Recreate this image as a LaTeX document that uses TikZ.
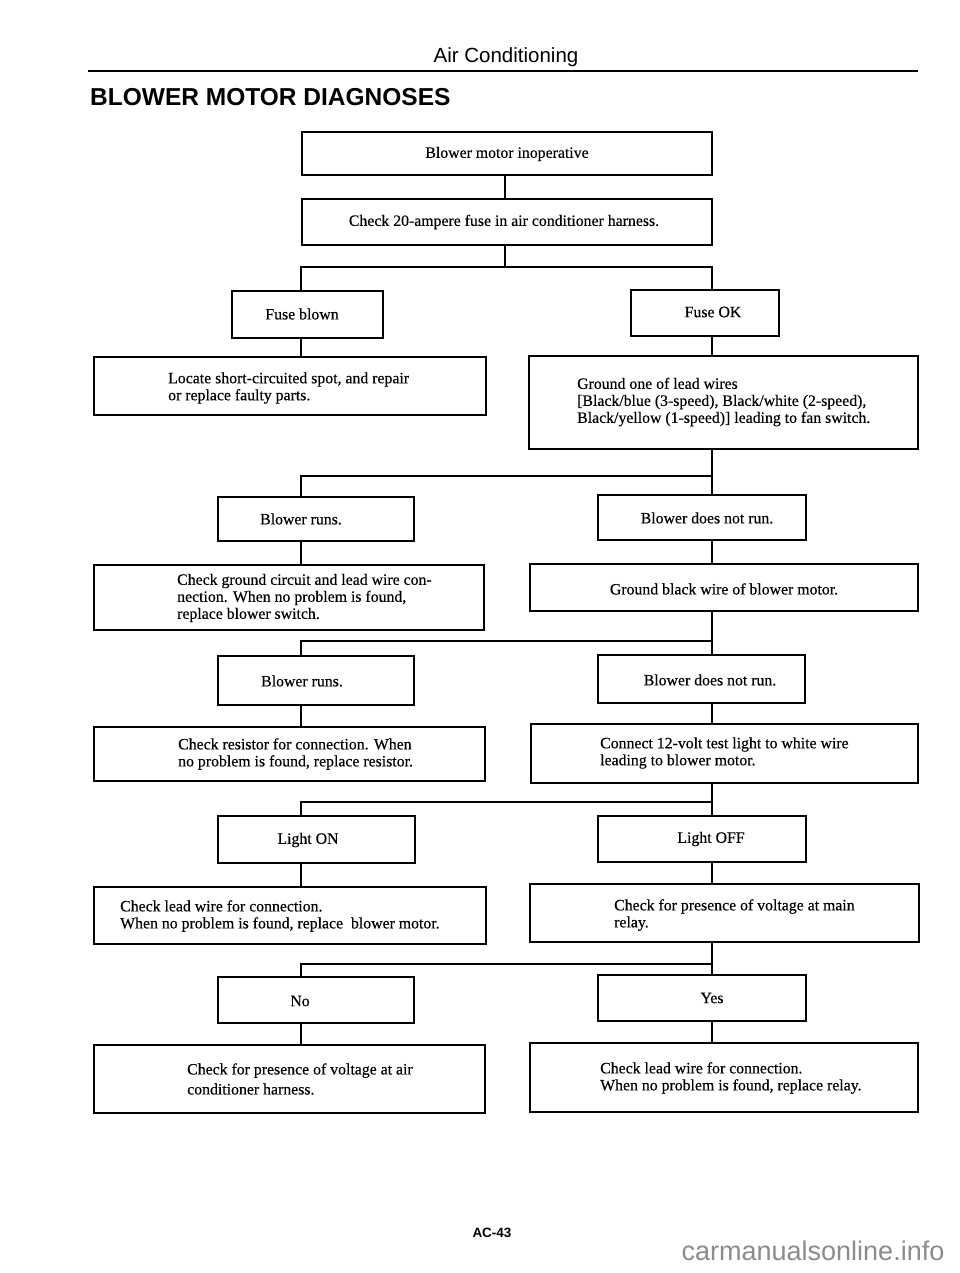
\documentclass[tikz,border=0pt]{standalone}
\usepackage{fontspec}
\setmainfont{Liberation Serif}[FakeBold=0.35]
\newfontfamily\hsans{Liberation Sans}
\usetikzlibrary{fit}
\begin{document}
\begin{tikzpicture}[x=1pt,y=-1pt,
  bx/.style={draw, line width=1.6pt, inner sep=0pt, fit={#1}},
  bxt/.style={draw, line width=2.4pt, inner sep=0pt, fit={#1}},
  txt/.style={inner sep=0pt, align=left, font=\fontsize{15.8}{17}\selectfont},
  txtw/.style={txt, anchor=west},
  con/.style={line width=1.5pt, line join=miter, line cap=rect}]
\fill[white] (0,0) rectangle (960,1273);
\useasboundingbox (0,0) rectangle (960,1273);

% header
\node[inner sep=0pt, font=\hsans\fontsize{20.5}{24}\selectfont] (hdr) at (506,57) {Air Conditioning};
\coordinate (rl) at (88,71);
\coordinate (rr) at (918,71);
\draw[line width=2.6pt] (rl) -- (rr);
\node[inner sep=0pt, anchor=west, font=\hsans\bfseries\fontsize{24.5}{28}\selectfont] (ttl) at (90,97) {BLOWER MOTOR DIAGNOSES};

% boxes
\node[bxt={(302,132) (712,175)}] (b1) {};
\node[bx={(302,199) (712,245)}] (b2) {};
\node[bx={(232,291) (383,338)}] (fb) {};
\node[bx={(631,290) (779,336)}] (fo) {};
\node[bx={(94,357) (486,415)}] (l1) {};
\node[bx={(529,356) (918,449)}] (g1) {};
\node[bx={(218,497) (414,541)}] (br1) {};
\node[bx={(598,495) (806,540)}] (bd1) {};
\node[bx={(94,565) (484,630)}] (cg) {};
\node[bx={(530,564) (918,611)}] (gb) {};
\node[bx={(218,656) (414,705)}] (br2) {};
\node[bx={(598,655) (805,703)}] (bd2) {};
\node[bx={(94,727) (485,781)}] (cr) {};
\node[bx={(531,724) (918,783)}] (c12) {};
\node[bx={(218,816) (415,863)}] (lon) {};
\node[bx={(598,816) (806,862)}] (loff) {};
\node[bx={(94,887) (486,944)}] (cl) {};
\node[bx={(530,884) (919,942)}] (cp) {};
\node[bx={(218,977) (414,1023)}] (no) {};
\node[bx={(598,975) (806,1021)}] (yes) {};
\node[bx={(94,1045) (485,1113)}] (cv) {};
\node[bx={(530,1043) (918,1112)}] (clr) {};

% texts
\node[txt] (t1) at (507,154) {Blower motor inoperative};
\node[txt] (t2) at (504,222) {Check 20-ampere fuse in air conditioner harness.};
\node[txt] (tfb) at (302,314) {Fuse blown};
\node[txt] (tfo) at (713,312) {Fuse OK};
\node[txtw] (tl1) at (168,388) {Locate short-circuited spot, and repair\\or replace faulty parts.};
\node[txtw] (tg1) at (577,402) {Ground one of lead wires\\{}[Black/blue (3-speed), Black/white (2-speed),\\Black/yellow (1-speed)] leading to fan switch.};
\node[txt] (tbr1) at (301,519) {Blower runs.};
\node[txt] (tbd1) at (707,518) {Blower does not run.};
\node[txtw] (tcg) at (177,598) {Check ground circuit and lead wire con-\\nection. When no problem is found,\\replace blower switch.};
\node[txt] (tgb) at (724,589) {Ground black wire of blower motor.};
\node[txt] (tbr2) at (302,681) {Blower runs.};
\node[txt] (tbd2) at (710,680) {Blower does not run.};
\node[txtw] (tcr) at (178,754) {Check resistor for connection. When\\no problem is found, replace resistor.};
\node[txtw] (tc12) at (600,753) {Connect 12-volt test light to white wire\\leading to blower motor.};
\node[txt] (tlon) at (308,840) {Light ON};
\node[txt] (tloff) at (711,839) {Light OFF};
\node[txtw] (tcl) at (120,916) {Check lead wire for connection.\\When no problem is found, replace\enspace blower motor.};
\node[txtw] (tcp) at (614,915) {Check for presence of voltage at main\\relay.};
\node[txt] (tno) at (300,1001) {No};
\node[txt] (tyes) at (712,998) {Yes};
\node[txtw] (tcv) at (187,1079) {Check for presence of voltage at air\\[3pt]conditioner harness.};
\node[txtw] (tclr) at (600,1078) {Check lead wire for connection.\\When no problem is found, replace relay.};

% junction coordinates
\coordinate (m) at (505,0);
\coordinate (L) at (301,0);
\coordinate (R) at (712,0);
\coordinate (j1M) at (505,267);
\coordinate (j1L) at (301,267);
\coordinate (j1R) at (712,267);
\coordinate (j2L) at (301,476);
\coordinate (j2R) at (712,476);
\coordinate (j3L) at (301,641);
\coordinate (j3R) at (712,641);
\coordinate (j4L) at (301,802);
\coordinate (j4R) at (712,802);
\coordinate (j5L) at (301,964);
\coordinate (j5R) at (712,964);

% connectors
\draw[con] (b1.south -| m) -- (b2.north -| m);
\draw[con] (b2.south -| m) -- (j1M);
\draw[con] (fb.north -| L) -- (j1L) -- (j1R) -- (fo.north -| R);
\draw[con] (fb.south -| L) -- (l1.north -| L);
\draw[con] (fo.south -| R) -- (g1.north -| R);

\draw[con] (g1.south -| R) -- (bd1.north -| R);
\draw[con] (j2R) -- (j2L) -- (br1.north -| L);
\draw[con] (br1.south -| L) -- (cg.north -| L);
\draw[con] (bd1.south -| R) -- (gb.north -| R);

\draw[con] (gb.south -| R) -- (bd2.north -| R);
\draw[con] (j3R) -- (j3L) -- (br2.north -| L);
\draw[con] (br2.south -| L) -- (cr.north -| L);
\draw[con] (bd2.south -| R) -- (c12.north -| R);

\draw[con] (c12.south -| R) -- (loff.north -| R);
\draw[con] (j4R) -- (j4L) -- (lon.north -| L);
\draw[con] (lon.south -| L) -- (cl.north -| L);
\draw[con] (loff.south -| R) -- (cp.north -| R);

\draw[con] (cp.south -| R) -- (yes.north -| R);
\draw[con] (j5R) -- (j5L) -- (no.north -| L);
\draw[con] (no.south -| L) -- (cv.north -| L);
\draw[con] (yes.south -| R) -- (clr.north -| R);

% footer
\node[inner sep=0pt, font=\hsans\bfseries\fontsize{13.5}{16}\selectfont] (pg) at (492,1233) {AC-43};
\node[inner sep=0pt, text=black!45, font=\hsans\fontsize{27}{30}\selectfont] (wm) at (813,1251) {carmanualsonline.info};
\end{tikzpicture}
\end{document}
